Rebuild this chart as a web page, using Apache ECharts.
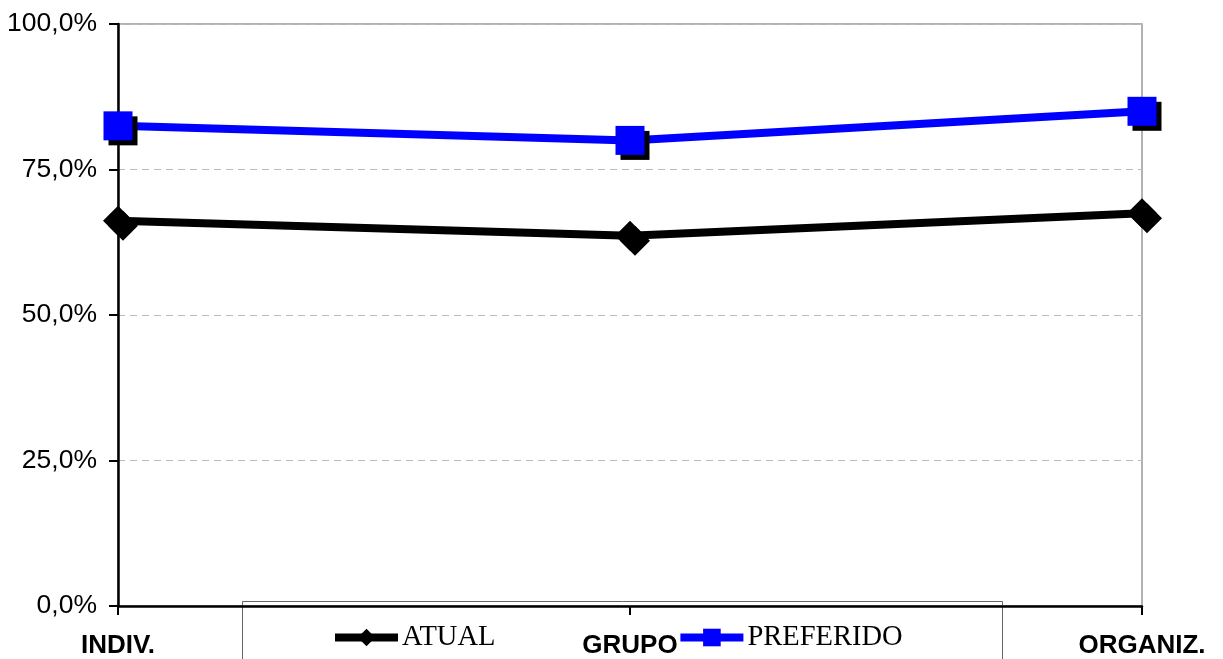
<!DOCTYPE html>
<html>
<head>
<meta charset="utf-8">
<script src="https://cdn.jsdelivr.net/npm/echarts@6/dist/echarts.min.js"></script>
<style>
  html, body { margin: 0; padding: 0; background: #fff; }
  #chart { width: 1223px; height: 659px; }
</style>
</head>
<body>
<div id="chart"></div>
<script>
// Categories along the horizontal axis
const categories = ['INDIV.', 'GRUPO', 'ORGANIZ.'];
// Shares per category (percent)
const atual = [66.2, 63.6, 67.5];
const preferido = [82.5, 80.0, 85.0];
// Vertical axis ticks (percent)
const yTicks = [0, 25, 50, 75, 100];

const chart = echarts.init(document.getElementById('chart'), null, { renderer: 'canvas' });

// hard drop shadow under each marker
const markShadow = { shadowColor: '#000', shadowBlur: 0, shadowOffsetX: 5, shadowOffsetY: 5 };

chart.setOption({
  animation: false,
  backgroundColor: '#fff',
  grid: {
    left: 118, right: 81, top: 24, bottom: 51,
    show: true, borderColor: '#999', borderWidth: 1.5
  },
  xAxis: {
    type: 'category',
    data: categories,
    boundaryGap: false,
    axisLine: { lineStyle: { color: '#000', width: 2.5 } },
    axisTick: { show: true, length: 9, lineStyle: { color: '#000', width: 2 } },
    axisLabel: {
      color: '#000', fontFamily: '"Liberation Sans", Arial, sans-serif',
      fontWeight: 'bold', fontSize: 26, margin: 27
    },
    splitLine: { show: false }
  },
  yAxis: {
    type: 'value',
    min: yTicks[0], max: yTicks[yTicks.length - 1], interval: yTicks[1] - yTicks[0],
    axisLine: { show: true, lineStyle: { color: '#000', width: 2.5 } },
    axisTick: { show: true, length: 9, lineStyle: { color: '#000', width: 2 } },
    axisLabel: {
      color: '#000', fontFamily: '"Liberation Sans", Arial, sans-serif',
      fontSize: 26.5, margin: 21,
      formatter: v => v.toFixed(1).replace('.', ',') + '%'
    },
    splitLine: { show: true, lineStyle: { color: '#bbb', type: [7, 5], width: 1 } }
  },
  legend: {
    left: 326, top: 618,
    itemWidth: 63, itemHeight: 22, itemGap: 181,
    lineStyle: { width: 8 },
    textStyle: {
      fontFamily: '"Liberation Serif", "Times New Roman", serif', fontSize: 28.5,
      color: '#000', padding: [8, 0, 0, -1]
    },
    data: ['ATUAL', 'PREFERIDO']
  },
  graphic: [{
    type: 'rect', z: -1,
    shape: { x: 242.5, y: 601.5, width: 760, height: 80 },
    style: { fill: '#fff', stroke: '#666', lineWidth: 1 }
  }],
  series: [
    {
      name: 'ATUAL', type: 'line', data: atual,
      symbol: 'diamond', symbolSize: [30, 30],
      lineStyle: { color: '#000', width: 8 },
      itemStyle: Object.assign({ color: '#000' }, markShadow),
      z: 3
    },
    {
      name: 'PREFERIDO', type: 'line', data: preferido,
      symbol: 'rect', symbolSize: 29,
      lineStyle: { color: '#0000ff', width: 8 },
      itemStyle: Object.assign({ color: '#0000ff' }, markShadow),
      z: 4
    }
  ]
});
</script>
</body>
</html>
